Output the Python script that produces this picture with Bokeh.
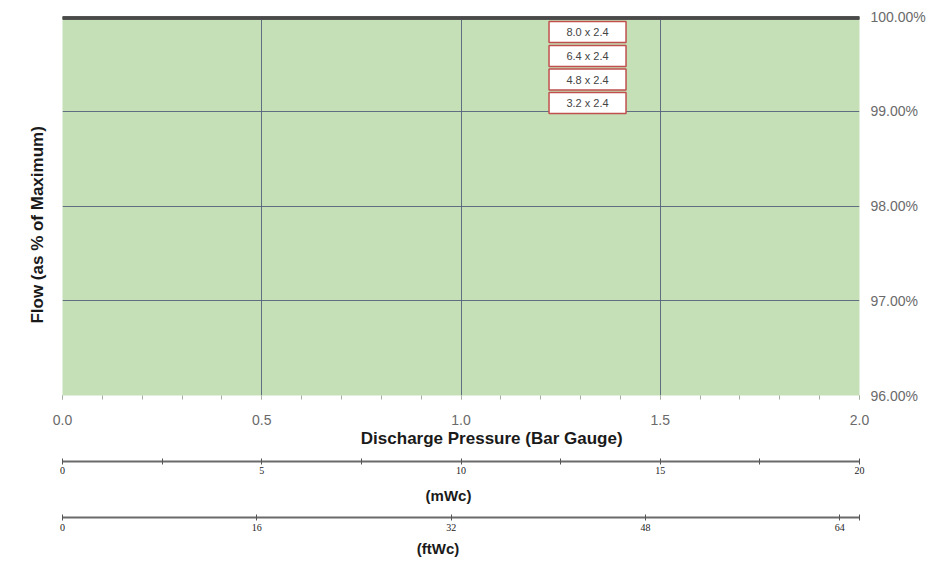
from bokeh.plotting import figure
from bokeh.models import (Range1d, LinearAxis, FixedTicker, SingleIntervalTicker,
                          NumeralTickFormatter, ColumnDataSource)
from bokeh.embed import file_html
from bokeh.resources import INLINE
from bokeh.core.properties import value

# ---------------- data ----------------
pressure_bar = [0.0, 0.5, 1.0, 1.5, 2.0]
series_labels = ["8.0 x 2.4", "6.4 x 2.4", "4.8 x 2.4", "3.2 x 2.4"]
flow_8_0 = [100.0, 100.0, 100.0, 100.0, 100.0]
flow_6_4 = [100.0, 100.0, 100.0, 100.0, 100.0]
flow_4_8 = [100.0, 100.0, 100.0, 100.0, 100.0]
flow_3_2 = [100.0, 100.0, 100.0, 100.0, 100.0]
flow_ticks = [96, 97, 98, 99, 100]
grid_flow = [97, 98, 99]
grid_bar = [0.5, 1.0, 1.5]
mwc_ticks = [0, 5, 10, 15, 20]
mwc_minor = [2.5, 7.5, 12.5, 17.5]
mwc_max = 20
ftwc_ticks = [0, 16, 32, 48, 64]
ftwc_max = 65.62

FONT = "Liberation Sans"
NB = "\u00a0"

x_lo, x_hi = 0.0, 2.0
y_lo, y_hi = flow_ticks[0] / 100, flow_ticks[-1] / 100
frame_h = 379

p = figure(width=928, height=560, x_range=Range1d(x_lo, x_hi), y_range=Range1d(y_lo, y_hi),
           output_backend="svg", toolbar_location=None,
           x_axis_location=None, y_axis_location=None,
           min_border_left=62, min_border_right=66, min_border_top=16, min_border_bottom=165,
           background_fill_color="#c5dfb7", border_fill_color="white", outline_line_color=None)
p.extra_x_ranges = {"m": Range1d(0, mwc_max), "ft": Range1d(0, ftwc_max)}

# grids
p.xgrid.ticker = FixedTicker(ticks=grid_bar)
p.ygrid.ticker = FixedTicker(ticks=[v / 100 for v in grid_flow])
for g in (p.xgrid, p.ygrid):
    g.grid_line_color = "#55617a"
    g.grid_line_width = 1
    g.grid_line_alpha = 0.9

# series (all at 100 %)
for flows in (flow_8_0, flow_6_4, flow_4_8, flow_3_2):
    p.line(pressure_bar, [f / 100 for f in flows], line_color="#4a4a4a", line_width=6)

# legend boxes
box_px_offsets = [15.5, 39.5, 63.0, 86.5]
leg_src = ColumnDataSource(dict(
    x=[1.3175] * len(series_labels),
    y=[y_hi - o * (y_hi - y_lo) / frame_h for o in box_px_offsets],
    label=series_labels))
p.rect(x="x", y="y", width=77, height=21, width_units="screen", height_units="screen",
       source=leg_src, fill_color="white", line_color="#c0504d", line_width=1.5)
p.text(x="x", y="y", text="label", source=leg_src, text_align="center", text_baseline="middle",
       text_font=value(FONT), text_font_size="11px", text_color="#444444")

# primary x axis (bar)
ax_bar = LinearAxis(ticker=SingleIntervalTicker(interval=0.5, num_minor_ticks=5),
                    formatter=NumeralTickFormatter(format="0.0"))
ax_bar.axis_line_color = None
ax_bar.major_tick_in = 0
ax_bar.major_tick_out = 4
ax_bar.minor_tick_in = 0
ax_bar.minor_tick_out = 4
ax_bar.major_tick_line_color = "#a3b09f"
ax_bar.minor_tick_line_color = "#a3b09f"
ax_bar.major_label_standoff = 15
ax_bar.major_label_text_font = FONT
ax_bar.major_label_text_font_size = "14px"
ax_bar.major_label_text_color = "#6a6a6a"
ax_bar.axis_label = NB * 13 + "Discharge Pressure (Bar Gauge)" + "\n"
ax_bar.axis_label_text_font = FONT
ax_bar.axis_label_text_font_size = "17px"
ax_bar.axis_label_text_font_style = "bold"
ax_bar.axis_label_text_color = "#1a1a1a"
ax_bar.axis_label_standoff = 1
ax_bar.axis_label_text_line_height = 0.56
p.add_layout(ax_bar, "below")

# mWc axis
ax_m = LinearAxis(x_range_name="m", ticker=FixedTicker(ticks=mwc_ticks, minor_ticks=mwc_minor))
ax_m.axis_line_color = "#6a6a6a"
ax_m.axis_line_width = 2
ax_m.major_tick_in = 3
ax_m.major_tick_out = 3
ax_m.minor_tick_in = 3
ax_m.minor_tick_out = 3
ax_m.major_tick_line_color = "#555555"
ax_m.minor_tick_line_color = "#555555"
ax_m.major_label_standoff = 2
ax_m.major_label_text_font = "Liberation Serif"
ax_m.major_label_text_font_size = "10px"
ax_m.major_label_text_color = "#222222"
ax_m.axis_label = "(mWc)" + NB * 6 + "\n"
ax_m.axis_label_text_font = FONT
ax_m.axis_label_text_font_size = "15px"
ax_m.axis_label_text_font_style = "bold"
ax_m.axis_label_text_color = "#1a1a1a"
ax_m.axis_label_standoff = 10
ax_m.axis_label_text_line_height = 0.66
p.add_layout(ax_m, "below")

# ftWc axis
ax_ft = LinearAxis(x_range_name="ft", ticker=FixedTicker(ticks=ftwc_ticks, minor_ticks=[ftwc_max]))
ax_ft.axis_line_color = "#6a6a6a"
ax_ft.axis_line_width = 2
ax_ft.major_tick_in = 3
ax_ft.major_tick_out = 3
ax_ft.minor_tick_in = 3
ax_ft.minor_tick_out = 3
ax_ft.major_tick_line_color = "#555555"
ax_ft.minor_tick_line_color = "#555555"
ax_ft.major_label_standoff = 3
ax_ft.major_label_text_font = "Liberation Serif"
ax_ft.major_label_text_font_size = "10px"
ax_ft.major_label_text_color = "#222222"
ax_ft.axis_label = "(ftWc)" + NB * 11
ax_ft.axis_label_text_font = FONT
ax_ft.axis_label_text_font_size = "15px"
ax_ft.axis_label_text_font_style = "bold"
ax_ft.axis_label_text_color = "#1a1a1a"
ax_ft.axis_label_standoff = 6
p.add_layout(ax_ft, "below")

# left axis: title only
ax_l = LinearAxis(ticker=FixedTicker(ticks=[]))
ax_l.axis_line_color = None
ax_l.major_tick_in = 0
ax_l.major_tick_out = 0
ax_l.minor_tick_in = 0
ax_l.minor_tick_out = 0
ax_l.axis_label = "Flow (as % of Maximum)" + NB * 8
ax_l.axis_label_text_font = FONT
ax_l.axis_label_text_font_size = "17px"
ax_l.axis_label_text_font_style = "bold"
ax_l.axis_label_text_color = "#1a1a1a"
ax_l.axis_label_standoff = 16
p.add_layout(ax_l, "left")

# right axis: percentage labels
ax_r = LinearAxis(ticker=FixedTicker(ticks=[v / 100 for v in flow_ticks]),
                  formatter=NumeralTickFormatter(format="0.00%"))
ax_r.axis_line_color = None
ax_r.major_tick_in = 0
ax_r.major_tick_out = 0
ax_r.minor_tick_in = 0
ax_r.minor_tick_out = 0
ax_r.major_label_standoff = 11
ax_r.major_label_text_font = FONT
ax_r.major_label_text_font_size = "14px"
ax_r.major_label_text_color = "#6a6a6a"
p.add_layout(ax_r, "right")

open("out.html", "w").write(file_html(p, INLINE))
